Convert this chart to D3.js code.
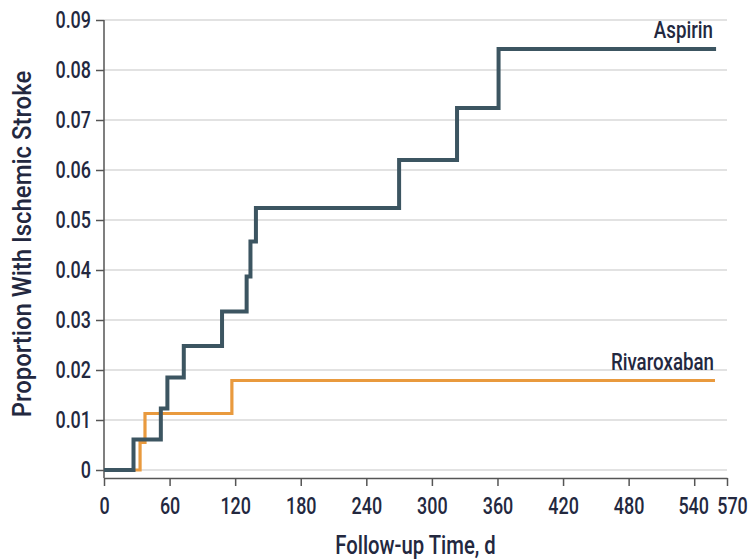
<!DOCTYPE html>
<html>
<head>
<meta charset="utf-8">
<script src="https://cdn.jsdelivr.net/npm/d3@7"></script>
<style>
  html, body { margin: 0; padding: 0; background: #fff; }
  svg text { font-family: Roboto, "DejaVu Sans Condensed", sans-serif; fill: #23283f; font-weight: 500; }
</style>
</head>
<body>
<svg id="chart" width="751" height="560"></svg>
<script>
// Data
const aspirinTime = [0, 27, 52, 58, 73, 108, 130.5, 134, 139, 270, 323, 361, 560];
const aspirinProp = [0, 0.0061, 0.0123, 0.0185, 0.0248, 0.0317, 0.0387, 0.0457, 0.0524, 0.062, 0.0724, 0.0842, 0.0842];
const rivaroxabanTime = [0, 33, 37.5, 117, 559];
const rivaroxabanProp = [0, 0.0055, 0.0113, 0.0179, 0.0179];
const xTicks = [0, 60, 120, 180, 240, 300, 360, 420, 480, 540, 570];
const yTicks = [0, 0.01, 0.02, 0.03, 0.04, 0.05, 0.06, 0.07, 0.08, 0.09];
const seriesNames = ["Aspirin", "Rivaroxaban"];

const SX = 0.78; // horizontal condensing of the text
const svg = d3.select("#chart");
const x = d3.scaleLinear().domain([0, 570]).range([104, 727]);
const y = d3.scaleLinear().domain([0, 0.09]).range([470, 20]);
const axisY = 478;

// gridlines
svg.append("g").selectAll("line").data(yTicks).join("line")
  .attr("x1", x(0)).attr("x2", x(570))
  .attr("y1", d => y(d)).attr("y2", d => y(d))
  .attr("stroke", "#e2e2e2").attr("stroke-width", 2);

// x axis
const gx = svg.append("g").attr("transform", `translate(0,${axisY})`)
  .call(d3.axisBottom(x).tickValues(xTicks).tickFormat(d3.format("d")).tickSize(8).tickSizeOuter(0));
gx.attr("font-family", null).attr("font-size", null);
gx.select(".domain").attr("stroke", "#555").attr("stroke-width", 1.5);
gx.selectAll(".tick line").attr("stroke", "#555").attr("stroke-width", 1.5);
gx.selectAll(".tick text")
  .attr("font-size", 23).attr("y", 20)
  .attr("x", d => (d === 570 ? 5 : d === 540 ? -1 : 0) / SX)
  .attr("transform", `scale(${SX},1)`);

// y axis
const gy = svg.append("g").attr("transform", `translate(${x(0)},0)`)
  .call(d3.axisLeft(y).tickValues(yTicks).tickFormat(d => d === 0 ? "0" : d3.format(".2f")(d)).tickSize(8).tickSizeOuter(0));
gy.attr("font-family", null).attr("font-size", null);
gy.select(".domain").attr("stroke", "#555").attr("stroke-width", 1.5)
  .attr("d", `M0,${y(0.09)}V${axisY}`);
gy.selectAll(".tick line").attr("stroke", "#555").attr("stroke-width", 1.5);
gy.selectAll(".tick text").attr("font-size", 23).attr("x", -13 / SX)
  .attr("transform", `scale(${SX},1)`);

// lines
const line = d3.line().x(d => x(d[0])).y(d => y(d[1])).curve(d3.curveStepAfter);
const rivData = rivaroxabanTime.map((t, i) => [t, rivaroxabanProp[i]]);
const aspData = aspirinTime.map((t, i) => [t, aspirinProp[i]]);

svg.append("path").datum(rivData).attr("d", line)
  .attr("fill", "none").attr("stroke", "#e99a3e").attr("stroke-width", 3.2);
svg.append("path").datum(aspData).attr("d", line)
  .attr("fill", "none").attr("stroke", "#3c5561").attr("stroke-width", 4);

// series labels
function condensedText(px, py, size, anchor, txt, sx) {
  svg.append("text")
    .attr("transform", `translate(${px},${py}) scale(${sx || SX},1)`)
    .attr("text-anchor", anchor).attr("font-size", size).text(txt);
}
condensedText(713, 38, 24, "end", seriesNames[0]);
condensedText(714, 370, 24, "end", seriesNames[1]);

// axis titles
condensedText((x(0) + x(570)) / 2, 554, 26, "middle", "Follow-up Time, d");
svg.append("text").attr("transform", `translate(31,244) rotate(-90) scale(0.92,1)`)
  .attr("text-anchor", "middle").attr("font-size", 26).text("Proportion With Ischemic Stroke");
</script>
</body>
</html>
